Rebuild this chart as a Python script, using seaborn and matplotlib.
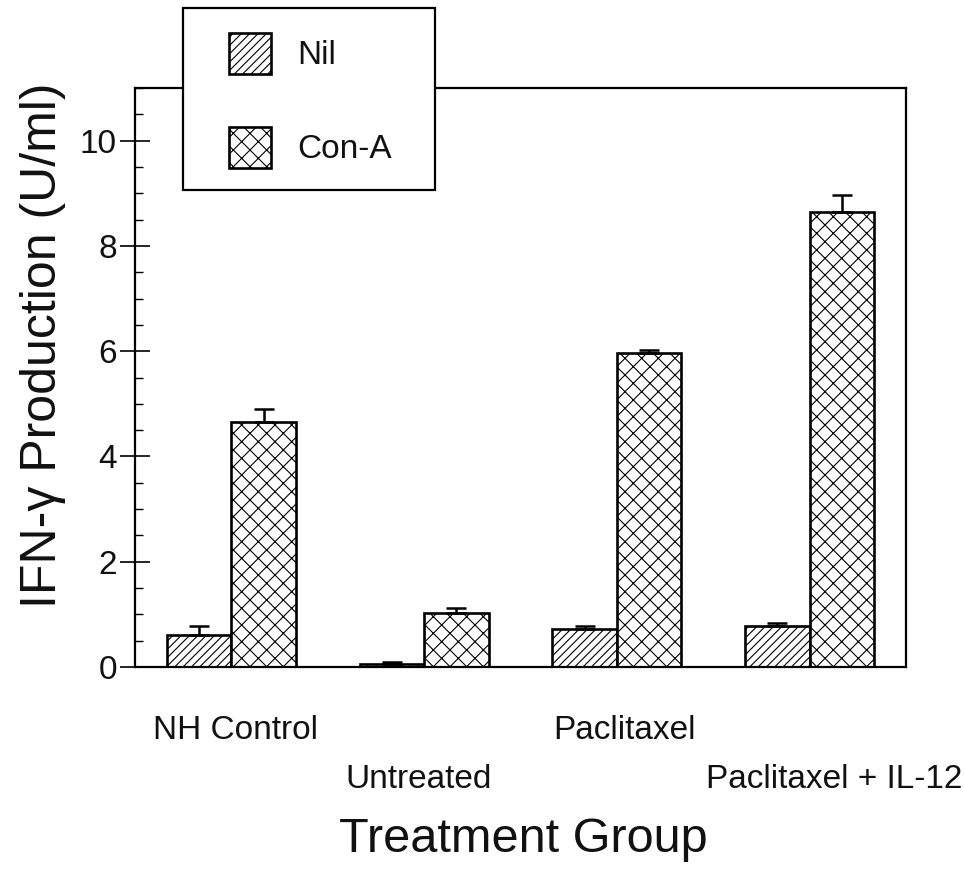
import numpy as np
import pandas as pd
import matplotlib
matplotlib.use("Agg")
import matplotlib.pyplot as plt
from matplotlib.patches import Patch, Rectangle
from matplotlib.ticker import MultipleLocator
import seaborn as sns

# data
groups = ["NH Control", "Untreated", "Paclitaxel", "Paclitaxel + IL-12"]
stimuli = ["Nil", "Con-A"]
nil_vals = [0.61, 0.06, 0.72, 0.78]
nil_err = [0.17, 0.03, 0.06, 0.06]
cona_vals = [4.66, 1.03, 5.97, 8.64]
cona_err = [0.24, 0.10, 0.06, 0.32]
hatches = ["////", "xx"]

df = pd.DataFrame({
    "Group": groups * 2,
    "Stimulus": ["Nil"] * 4 + ["Con-A"] * 4,
    "Value": nil_vals + cona_vals,
})

sns.set_style("ticks")
plt.rcParams['font.family'] = ['Liberation Sans', 'DejaVu Sans']
plt.rcParams['text.color'] = '#111111'
plt.rcParams['ytick.labelcolor'] = '#111111'
plt.rcParams['axes.labelcolor'] = '#111111'
plt.rcParams['hatch.linewidth'] = 0.8
plt.rcParams['hatch.color'] = '#333333'

fig = plt.figure(figsize=(9.64, 8.73), dpi=100)
ax = fig.add_axes([135 / 964, 1 - 667 / 873, 771 / 964, 579 / 873])

sns.barplot(data=df, x="Group", y="Value", hue="Stimulus", order=groups,
            hue_order=stimuli, palette=["white", "white"], edgecolor="black",
            linewidth=1.9, width=0.67, errorbar=None, ax=ax, legend=False)

# hatching and one-sided error bars
for cont, hatch, err in zip(ax.containers, hatches, [nil_err, cona_err]):
    xs, hs = [], []
    for bar in cont:
        bar.set_hatch(hatch)
        xs.append(bar.get_x() + bar.get_width() / 2)
        hs.append(bar.get_height())
    ax.errorbar(xs, hs, yerr=[np.zeros(len(err)), err], fmt="none",
                ecolor="black", elinewidth=1.8, capsize=7.5, capthick=1.8, zorder=1)

ax.set_xlim(-0.5, 3.5)
ax.set_ylim(0, 11)
ax.yaxis.set_major_locator(MultipleLocator(2))
ax.yaxis.set_minor_locator(MultipleLocator(0.5))
ax.tick_params(axis="y", which="major", direction="inout", length=22, width=1.2,
               labelsize=24, pad=2, color="black")
ax.tick_params(axis="y", which="minor", direction="in", length=6, width=1.0,
               color="black")
ax.tick_params(axis="x", length=0, labelbottom=False)
for sp in ax.spines.values():
    sp.set_visible(True)
    sp.set_linewidth(1.6)
    sp.set_color("black")

# staggered group labels
label_x = [0.02, 0.97, 2.04, 3.13]
label_y = [-0.11, -0.195, -0.11, -0.195]
for gx, gy, name in zip(label_x, label_y, groups):
    ax.text(gx, gy, name, transform=ax.get_xaxis_transform(), ha="center",
            va="center", fontsize=24)

ax.set_xlabel("")
ax.set_ylabel("IFN-γ Production (U/ml)", fontsize=36)
ax.yaxis.set_label_coords(-0.09, 0.556)
fig.text(523 / 964, 1 - 840 / 873, "Treatment Group", ha="center", va="center",
         fontsize=35)

# legend box sitting over the top of the axes
box = Rectangle((183 / 964, 1 - 190 / 873), 252 / 964, 182 / 873,
                transform=fig.transFigure, facecolor="white", edgecolor="black",
                linewidth=1.6, zorder=3)
fig.patches.append(box)
handles = [Patch(facecolor="white", edgecolor="black", hatch=h, linewidth=1.9)
           for h in hatches]
leg = fig.legend(handles, stimuli, loc="upper left",
                 bbox_to_anchor=(229 / 964, 1 - 33 / 873), fontsize=24,
                 handlelength=1.26, handleheight=1.5, labelspacing=1.6,
                 handletextpad=0.8, borderpad=0, borderaxespad=0,
                 frameon=False)
leg.set_zorder(4)

fig.savefig("out.png", dpi=100)
